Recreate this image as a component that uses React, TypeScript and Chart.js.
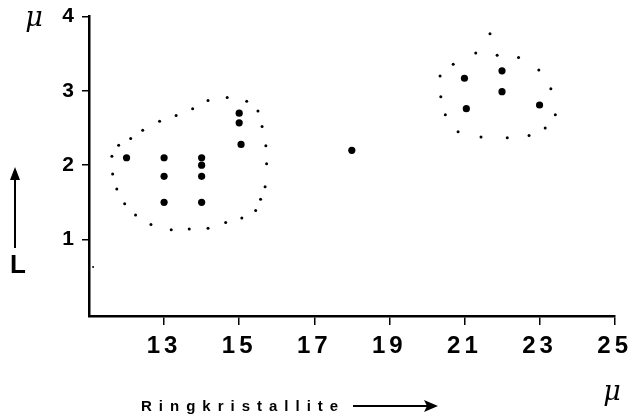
import React, { useEffect, useRef } from "react";
import { Chart, registerables } from "chart.js";

Chart.register(...registerables);

// Measured points (large dots)
const pointsX = [12, 13, 13, 13, 14, 14, 14, 14, 15, 15, 15.05, 18, 21, 21.05, 22, 22, 23];
const pointsY = [2.1, 2.1, 1.85, 1.5, 2.1, 2.0, 1.85, 1.5, 2.7, 2.57, 2.28, 2.2, 3.17, 2.76, 3.27, 2.99, 2.81];

// Dotted boundary around left group
const leftLoopX = [11.61, 11.63, 11.74, 11.95, 12.24, 12.65, 13.19, 13.67, 14.17, 14.64, 15.07, 15.44, 15.57, 15.69, 15.73, 15.71, 15.61, 15.5, 15.2, 14.68, 14.17, 13.76, 13.32, 12.88, 12.43, 12.11, 11.79];
const leftLoopY = [2.12, 1.88, 1.68, 1.48, 1.33, 1.2, 1.13, 1.14, 1.15, 1.23, 1.29, 1.39, 1.54, 1.71, 2.02, 2.26, 2.52, 2.73, 2.86, 2.91, 2.87, 2.76, 2.67, 2.59, 2.47, 2.36, 2.27];

// Dotted boundary around right group
const rightLoopX = [21.68, 21.3, 21.87, 22.44, 22.98, 23.3, 23.42, 23.15, 22.72, 22.14, 21.44, 20.83, 20.49, 20.37, 20.35, 20.7];
const rightLoopY = [3.77, 3.51, 3.48, 3.45, 3.28, 3.03, 2.68, 2.5, 2.4, 2.37, 2.38, 2.45, 2.68, 2.92, 3.2, 3.36];

// Stray dot near the y axis
const strayX = [11.11];
const strayY = [0.63];

const xTicks = [13, 15, 17, 19, 21, 23, 25];
const yTicks = [1, 2, 3, 4];

const xTitle = "Ringkristallite";
const unitLabel = "μ";
const yTitle = "L";

const zip = (xs: number[], ys: number[]) => xs.map((x, i) => ({ x, y: ys[i] }));

const extras = {
  id: "extras",
  beforeDraw(chart: any) {
    (chart.ctx as any).letterSpacing = "4px";
  },
  afterDraw(chart: any) {
    const ctx = chart.ctx as CanvasRenderingContext2D;
    ctx.save();
    (ctx as any).letterSpacing = "0px";
    ctx.fillStyle = "#000";
    ctx.strokeStyle = "#000";
    // mu units
    ctx.font = "italic 27px 'DejaVu Serif'";
    ctx.textAlign = "center";
    ctx.textBaseline = "middle";
    ctx.fillText(unitLabel, 34, 19);
    ctx.fillText(unitLabel, 612, 393);
    // L with up arrow
    ctx.font = "bold 26px 'Liberation Sans'";
    ctx.fillText(yTitle, 18, 266);
    ctx.lineWidth = 2;
    ctx.beginPath();
    ctx.moveTo(15, 248);
    ctx.lineTo(15, 170);
    ctx.stroke();
    ctx.beginPath();
    ctx.moveTo(15, 167);
    ctx.lineTo(10, 180);
    ctx.lineTo(20, 180);
    ctx.closePath();
    ctx.fill();
    // x title with arrow
    (ctx as any).letterSpacing = "7px";
    ctx.font = "bold 15px 'Liberation Sans'";
    ctx.textAlign = "left";
    ctx.textBaseline = "alphabetic";
    ctx.fillText(xTitle, 141, 411);
    ctx.lineWidth = 2;
    ctx.beginPath();
    ctx.moveTo(353, 406);
    ctx.lineTo(430, 406);
    ctx.stroke();
    ctx.beginPath();
    ctx.moveTo(438, 406);
    ctx.lineTo(424, 400);
    ctx.lineTo(427, 406);
    ctx.lineTo(424, 412);
    ctx.closePath();
    ctx.fill();
    ctx.restore();
  },
};

export default function App() {
  const ref = useRef<HTMLCanvasElement>(null);
  useEffect(() => {
    if (!ref.current) return;
    const chart = new Chart(ref.current, {
      type: "scatter",
      data: {
        datasets: [
          {
            label: "Messpunkte",
            data: zip(pointsX, pointsY),
            backgroundColor: "#000",
            borderColor: "#000",
            pointRadius: 3.6,
            pointBorderWidth: 0,
          },
          {
            label: "Grenze links",
            data: zip(leftLoopX, leftLoopY),
            backgroundColor: "#000",
            borderColor: "#000",
            pointRadius: 1.5,
            pointBorderWidth: 0,
          },
          {
            label: "Grenze rechts",
            data: zip(rightLoopX, rightLoopY),
            backgroundColor: "#000",
            borderColor: "#000",
            pointRadius: 1.5,
            pointBorderWidth: 0,
          },
          {
            label: "Einzel",
            data: zip(strayX, strayY),
            backgroundColor: "#000",
            borderColor: "#000",
            pointRadius: 1,
            pointBorderWidth: 0,
          },
        ],
      },
      options: {
        animation: false,
        responsive: false,
        devicePixelRatio: 1,
        layout: { padding: { top: 15, right: 19, left: 0, bottom: 0 } },
        plugins: { legend: { display: false }, tooltip: { enabled: false } },
        scales: {
          x: {
            type: "linear",
            min: 11,
            max: 25,
            afterFit: (s: any) => {
              s.height = 100;
            },
            afterBuildTicks: (s: any) => {
              s.ticks = xTicks.map((v) => ({ value: v }));
            },
            border: { display: true, color: "#000", width: 2.5 },
            grid: {
              display: true,
              drawOnChartArea: false,
              drawTicks: true,
              tickLength: 9,
              tickColor: "#000",
              lineWidth: 1.5,
            },
            ticks: {
              autoSkip: false,
              maxRotation: 0,
              color: "#000",
              padding: 7,
              font: { family: "'Liberation Sans'", size: 24, weight: "bold" },
            },
          },
          y: {
            type: "linear",
            min: -0.03,
            max: 4,
            afterFit: (s: any) => {
              s.width = 89;
            },
            afterBuildTicks: (s: any) => {
              s.ticks = yTicks.map((v) => ({ value: v }));
            },
            border: { display: true, color: "#000", width: 2.5 },
            grid: {
              display: true,
              drawOnChartArea: false,
              drawTicks: true,
              tickLength: 7,
              tickColor: "#000",
              lineWidth: 1.5,
            },
            ticks: {
              color: "#000",
              padding: 4,
              font: { family: "'Liberation Sans'", size: 21, weight: "bold" },
            },
          },
        },
      },
      plugins: [extras],
    });
    return () => chart.destroy();
  }, []);
  return (
    <div style={{ position: "fixed", left: 0, top: 0, width: 635, height: 416, background: "#fff" }}>
      <canvas ref={ref} width={635} height={416} style={{ display: "block" }} />
    </div>
  );
}
